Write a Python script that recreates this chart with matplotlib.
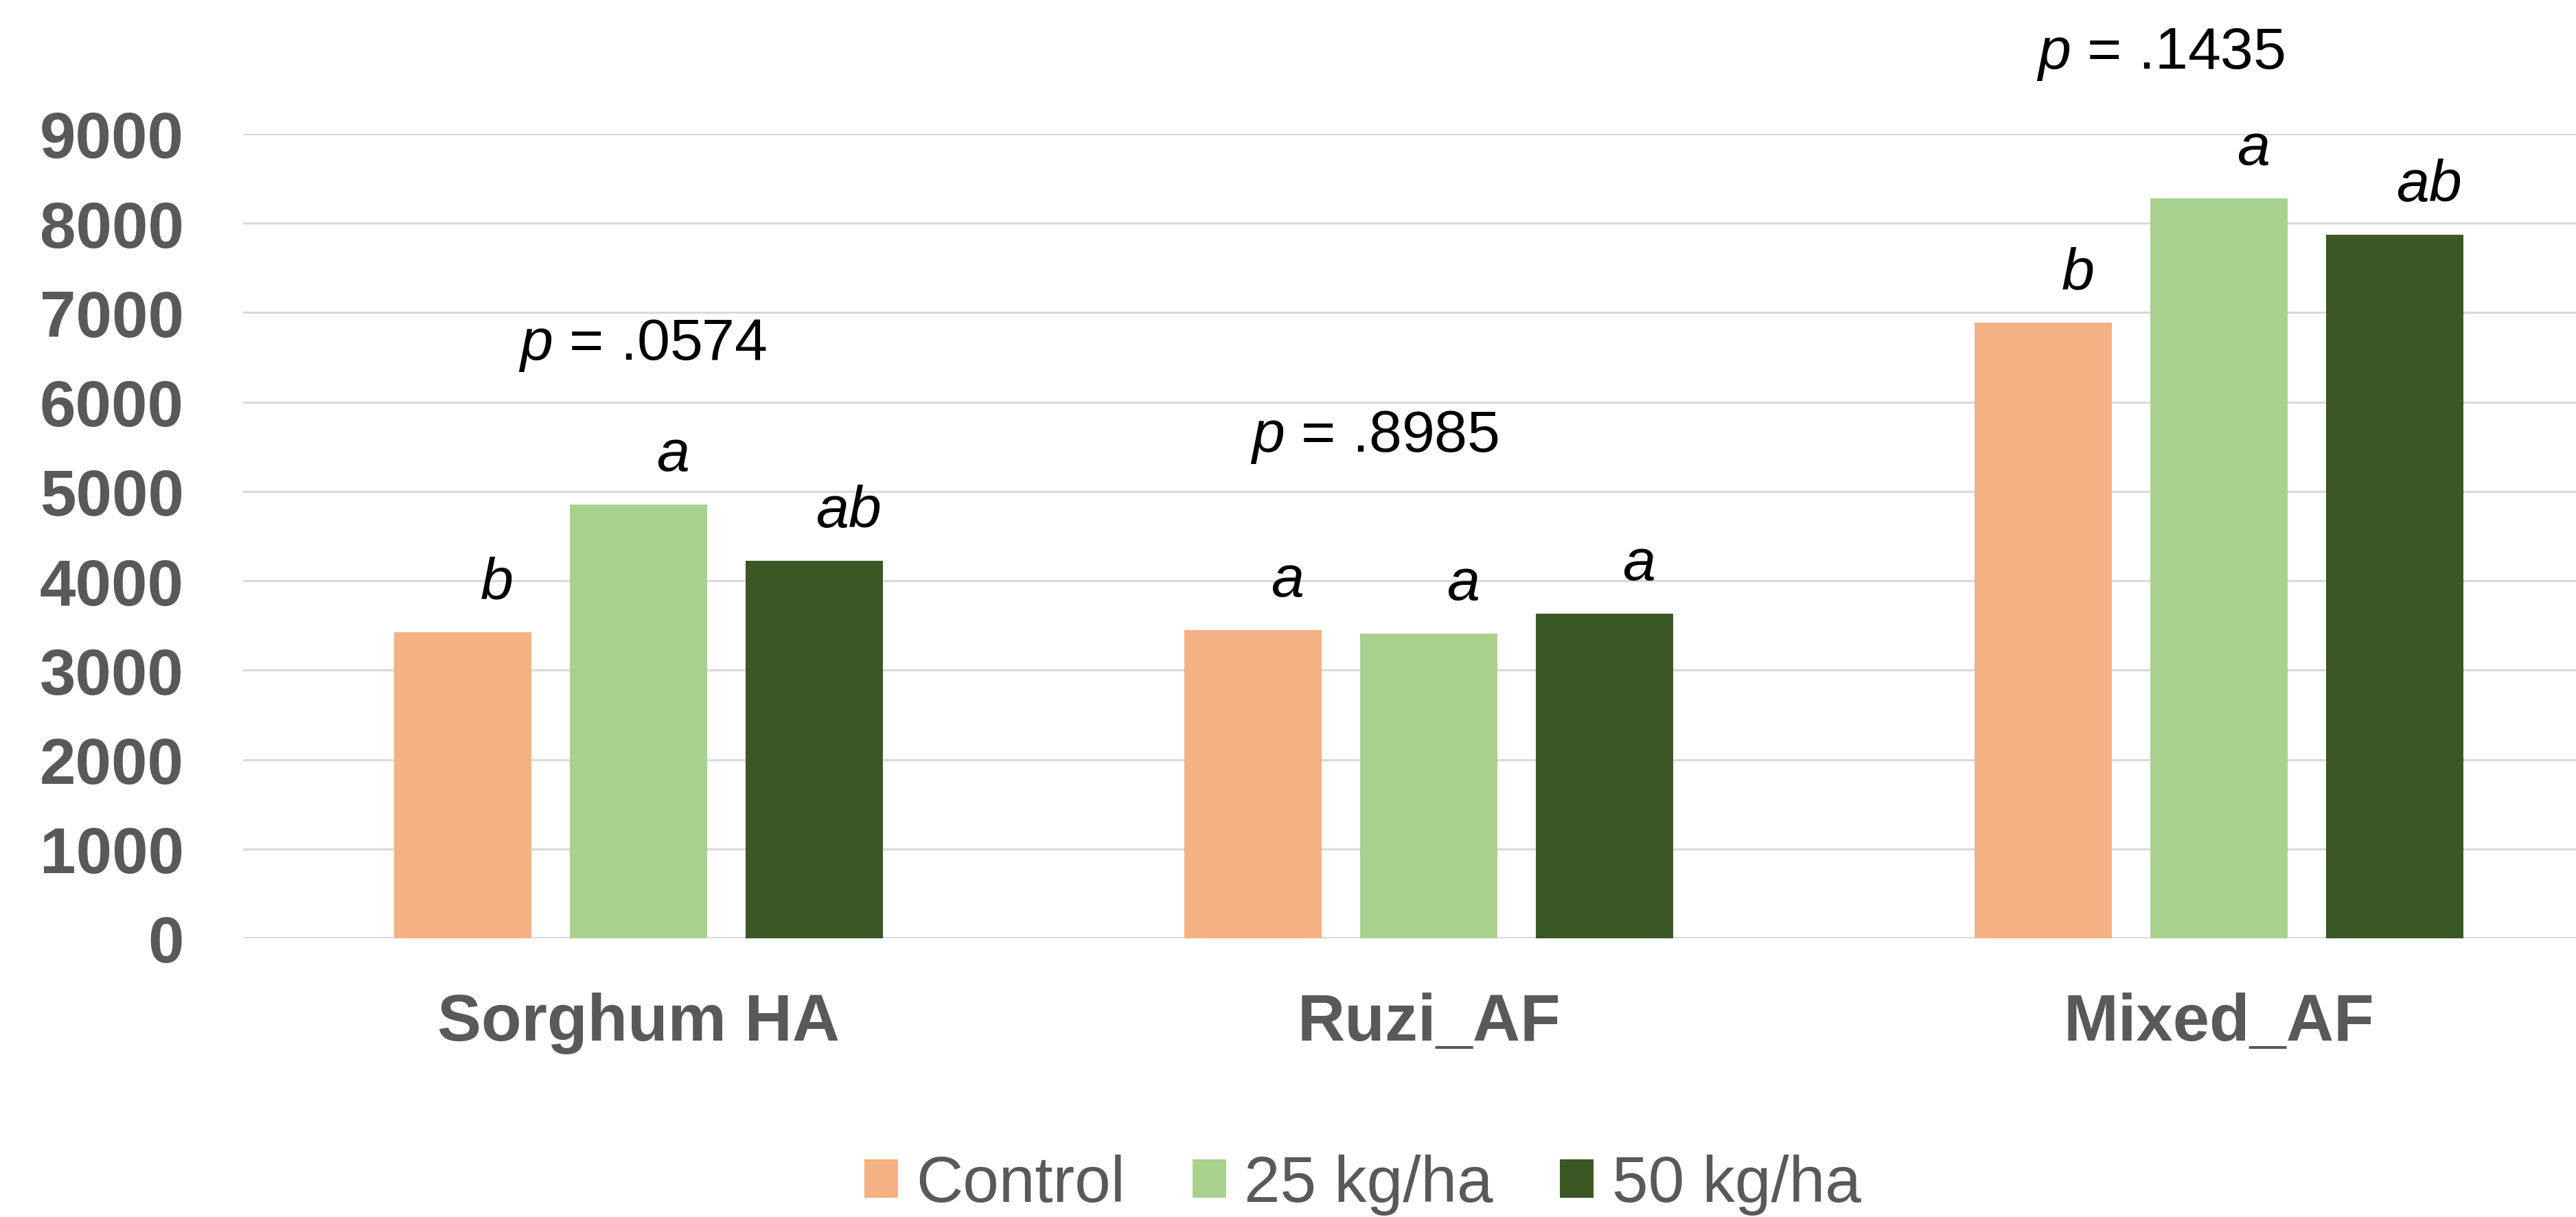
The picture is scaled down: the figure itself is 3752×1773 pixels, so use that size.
import numpy as np
import matplotlib
matplotlib.use('Agg')
import matplotlib.pyplot as plt

# === Data ===
crops = ['Sorghum HA', 'Ruzi_AF', 'Mixed_AF']
treatments = ['Control', '25 kg/ha', '50 kg/ha']
control = [3425, 3449, 6885]
kg25 = [4856, 3410, 8279]
kg50 = [4225, 3633, 7870]
letters_control = ['b', 'a', 'b']
letters_25 = ['a', 'a', 'a']
letters_50 = ['ab', 'a', 'ab']
p_values = ['.0574', '.8985', '.1435']
p_label_y = [6482, 5453, 9739]
p_label_dx = [0.005, -0.069, -0.074]

colors = ['#F4B183', '#A9D18E', '#3B5724']
gray = '#595959'

plt.rcParams['font.family'] = ['Liberation Sans', 'DejaVu Sans']
plt.rcParams['mathtext.fontset'] = 'custom'
plt.rcParams['mathtext.it'] = 'Liberation Sans:italic'
plt.rcParams['mathtext.rm'] = 'Liberation Sans'

W, H = 3752, 1774
dpi = 200
fig = plt.figure(figsize=(W / dpi, H / dpi), dpi=dpi)
# plot area runs a bit past the right edge, like the cropped original
ax = fig.add_axes([354 / W, 1 - 1368 / H, 3454 / W, 1172 / H])

x = np.arange(len(crops))
bw = 0.1737
step = 0.2224

series = [control, kg25, kg50]
letters = [letters_control, letters_25, letters_50]
for i, (vals, lab, col, lets) in enumerate(zip(series, treatments, colors, letters)):
    xs = x + (i - 1) * step
    ax.bar(xs, vals, width=bw, color=col, label=lab, zorder=3)
    for xi, v, t in zip(xs, vals, lets):
        ax.annotate(t, (xi, v), xytext=(18, 18), textcoords='offset points',
                    ha='center', va='baseline', fontsize=31, style='italic',
                    color='black')

for xi, pv, py, dx in zip(x, p_values, p_label_y, p_label_dx):
    ax.text(xi + dx, py, r'$\mathit{p}$ = ' + pv, ha='center', va='baseline',
            fontsize=31, color='black', clip_on=False)

ax.set_xlim(-0.5, 2.5)
ax.set_ylim(0, 9000)
ax.set_yticks(np.arange(0, 9001, 1000))
ax.set_xticks(x)
ax.set_xticklabels(crops)
ax.yaxis.grid(True, color='#D9D9D9', linewidth=1.1, zorder=0)
ax.set_axisbelow(True)
ax.axhline(0, color='#D9D9D9', linewidth=1.4, zorder=1)
for s in ax.spines.values():
    s.set_visible(False)
ax.tick_params(axis='y', length=0, pad=31, labelsize=34, labelcolor=gray)
ax.tick_params(axis='x', length=0, pad=28, labelsize=34.5, labelcolor=gray)
for t in ax.get_yticklabels() + ax.get_xticklabels():
    t.set_fontweight('bold')

fig.legend(loc='center', bbox_to_anchor=(0.529, 0.0265), ncol=3, frameon=False,
           fontsize=34, labelcolor=gray, handlelength=0.52, handleheight=0.52,
           handletextpad=0.28, columnspacing=1.03, borderpad=0)

fig.savefig('out.png', dpi=dpi)
